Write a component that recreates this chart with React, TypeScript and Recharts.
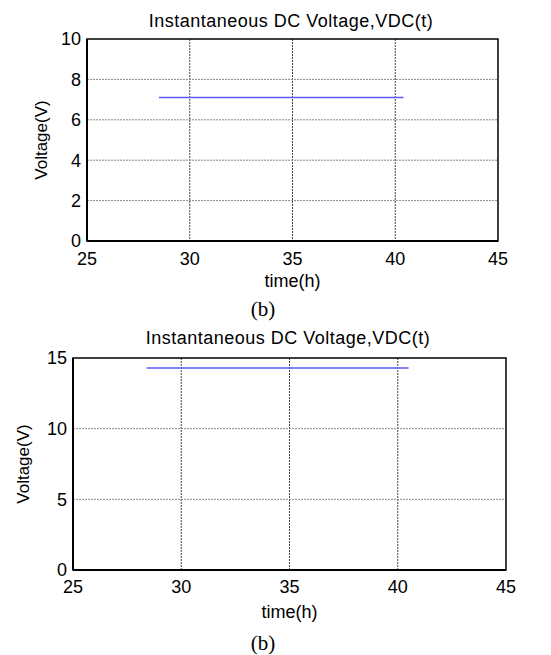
import { LineChart, Line, XAxis, YAxis, CartesianGrid, ReferenceArea } from "recharts";

const timeTicks = [25, 30, 35, 40, 45];
const topVoltTicks = [0, 2, 4, 6, 8, 10];
const bottomVoltTicks = [0, 5, 10, 15];

const timeTop = [28.5, 40.4];
const voltTop = [7.1, 7.1];
const timeBottom = [28.4, 40.5];
const voltBottom = [14.3, 14.3];

const FONT = "'Liberation Sans', Arial, sans-serif";
const tickStyle = { fill: "#000", fontSize: 18, fontFamily: FONT };

interface PanelProps {
  top: number;
  height: number;
  times: number[];
  volts: number[];
  yTicks: number[];
  yMax: number;
  margin: { top: number; right: number; left: number; bottom: number };
  yAxisWidth: number;
  xAxisHeight: number;
  xTickMargin: number;
  titleX: number;
  titleY: number;
  captionY: number;
}

function Panel(p: PanelProps) {
  const data = p.times.map((t, i) => ({ t, v: p.volts[i] }));
  return (
    <div style={{ position: "absolute", left: 0, top: p.top, width: 551, height: p.height }}>
      <LineChart width={551} height={p.height} data={data} margin={p.margin}>
        <CartesianGrid
          xAxisId="b"
          yAxisId="l"
          horizontal={false}
          stroke="#444"
          strokeDasharray="2 1"
          verticalValues={[30, 35, 40]}
        />
        <CartesianGrid
          xAxisId="b"
          yAxisId="l"
          vertical={false}
          stroke="#888"
          strokeDasharray="2 1"
          horizontalValues={p.yTicks.filter((v) => v !== 0 && v !== p.yMax)}
        />
        <XAxis
          xAxisId="b"
          type="number"
          dataKey="t"
          domain={[25, 45]}
          ticks={timeTicks}
          tick={tickStyle}
          tickLine={false}
          tickSize={0}
          tickMargin={p.xTickMargin}
          axisLine={{ stroke: "#000", strokeWidth: 2 }}
          height={p.xAxisHeight}
          interval={0}
          label={{
            value: "time(h)",
            position: "insideBottom",
            offset: 0,
            style: { fill: "#000", fontSize: 18, fontFamily: FONT },
          }}
        />
        <YAxis
          yAxisId="l"
          type="number"
          domain={[0, p.yMax]}
          ticks={p.yTicks}
          tick={tickStyle}
          tickLine={false}
          tickSize={0}
          tickMargin={6}
          axisLine={{ stroke: "#000", strokeWidth: 2 }}
          width={p.yAxisWidth}
          interval={0}
          label={{
            value: "Voltage(V)",
            angle: -90,
            position: "insideLeft",
            offset: 5,
            style: { fill: "#000", fontSize: 17, fontFamily: FONT, textAnchor: "middle" },
          }}
        />
        <ReferenceArea
          xAxisId="b"
          yAxisId="l"
          x1={25}
          x2={45}
          y1={0}
          y2={p.yMax}
          fill="none"
          fillOpacity={0}
          stroke="#000"
          strokeWidth={1.5}
          ifOverflow="visible"
        />
        <Line
          xAxisId="b"
          yAxisId="l"
          dataKey="v"
          stroke="#5b5bf5"
          strokeWidth={1.5}
          dot={false}
          isAnimationActive={false}
        />
      </LineChart>
      <div
        style={{
          position: "absolute",
          left: p.titleX - 200,
          width: 400,
          top: p.titleY - 11,
          textAlign: "center",
          fontFamily: FONT,
          fontSize: 18,
          letterSpacing: 0.5,
          lineHeight: "22px",
        }}
      >
        Instantaneous DC Voltage,VDC(t)
      </div>
      <div
        style={{
          position: "absolute",
          left: 213,
          width: 100,
          top: p.captionY - 12,
          textAlign: "center",
          fontFamily: "'Liberation Serif', 'Times New Roman', serif",
          fontSize: 21,
          lineHeight: "24px",
        }}
      >
        (b)
      </div>
    </div>
  );
}

export default function App() {
  return (
    <div style={{ position: "absolute", left: 0, top: 0, width: 551, height: 655, background: "#fff" }}>
      <Panel
        top={0}
        height={325}
        times={timeTop}
        volts={voltTop}
        yTicks={topVoltTicks}
        yMax={10}
        margin={{ top: 39, right: 53, left: 36, bottom: 38 }}
        yAxisWidth={51}
        xAxisHeight={46}
        xTickMargin={11}
        titleX={291}
        titleY={21}
        captionY={309}
      />
      <Panel
        top={325}
        height={330}
        times={timeBottom}
        volts={voltBottom}
        yTicks={bottomVoltTicks}
        yMax={15}
        margin={{ top: 33, right: 45, left: 18, bottom: 37 }}
        yAxisWidth={55}
        xAxisHeight={48}
        xTickMargin={10}
        titleX={288}
        titleY={13}
        captionY={318}
      />
    </div>
  );
}
